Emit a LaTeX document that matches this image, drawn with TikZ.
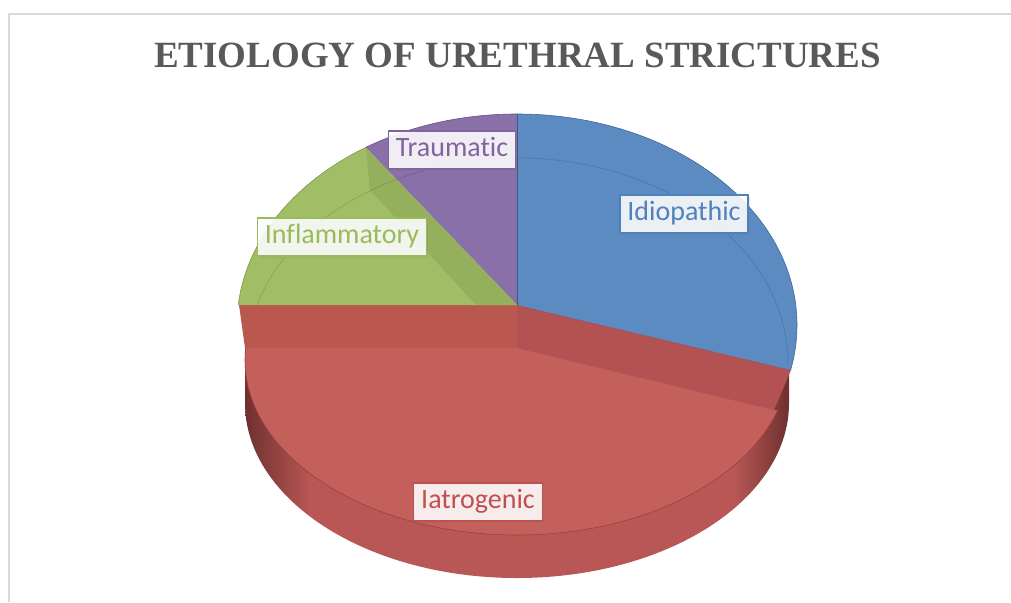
\documentclass[tikz,border=0pt]{standalone}
\usepackage{fontspec}
\setmainfont{Liberation Serif}
\newfontfamily\labelfont[Ligatures=NoCommon]{Carlito}
\usetikzlibrary{shadows}

\definecolor{titleC}{HTML}{595959}
\definecolor{frameC}{HTML}{D9D9D9}
\definecolor{idioC}{HTML}{4F81BD}
\definecolor{iatroC}{HTML}{C0504D}
\definecolor{inflC}{HTML}{9BBB59}
\definecolor{traumC}{HTML}{8064A2}
\definecolor{blueTop}{HTML}{5B8BC1}
\definecolor{purpleTop}{HTML}{8A70A9}
\definecolor{greenTop}{HTML}{A1BE66}
\definecolor{greenSide}{HTML}{94B05D}
\definecolor{redTop}{HTML}{C4605B}
\definecolor{redBandL}{HTML}{BA574F}
\definecolor{redBandR}{HTML}{B35252}
\definecolor{wallMid}{HTML}{B85755}
\definecolor{wallDark}{HTML}{6E302F}

\pgfdeclarehorizontalshading{wall}{100bp}{color(0bp)=(wallDark); color(25bp)=(wallDark);
  color(31bp)=(wallMid); color(70bp)=(wallMid); color(75bp)=(wallDark); color(100bp)=(wallDark)}

\begin{document}
\begin{tikzpicture}[x=1pt,y=-1pt]
  \tikzstyle{lab}=[rectangle,line width=1.5pt,fill=white,fill opacity=0.88,text opacity=1,
    inner xsep=7.5pt,inner ysep=7pt,text height=18pt,text depth=6pt,
    font=\labelfont\fontsize{28}{28}\selectfont,
    drop shadow={opacity=0.2,shadow xshift=1.5pt,shadow yshift=-1.5pt}]
  \tikzstyle{edge}=[line width=0.6pt]
  \tikzstyle{frame}=[frameC,line width=1.5pt]

  \useasboundingbox (0,0) rectangle (1011,602);

  % chart frame
  \draw[frame] (8,14) -- (1011,14);
  \draw[frame] (9,14) -- (9,602);

  \node[font=\bfseries\fontsize{37}{37}\selectfont,text=titleC,anchor=base] (title) at (517.5,67)
    {ETIOLOGY OF URETHRAL STRICTURES};

  % side wall of the iatrogenic slice
  \shade[shading=wall] (245,300) -- (245,403)
    arc[start angle=180,end angle=0,x radius=272,y radius=175] -- (789,300) -- cycle;

  % top of the iatrogenic slice
  \begin{scope}
    \clip (517,348) -- (200,348) -- (200,700) -- (850,700) -- (850,428) -- cycle;
    \filldraw[fill=redTop,draw=iatroC!80!black,edge] (517,360) ellipse[x radius=272,y radius=175];
  \end{scope}
  \fill[redBandL] (239,305) -- (517,305) -- (517,348) -- (245,348) -- cycle;
  \fill[redBandR] (517,305) -- (791,370) -- (774,410) -- (517,348) -- cycle;
  \draw[iatroC!85!black,edge] (517,305) -- (791,370);

  % idiopathic
  \begin{scope}
    \clip (517,305) -- (517,80) -- (900,80) -- (900,396) -- cycle;
    \filldraw[fill=blueTop,draw=idioC!80!black,edge] (517,325) ellipse[x radius=280,y radius=211];
  \end{scope}

  % traumatic
  \begin{scope}
    \clip (517,305) -- (517,50) -- (272,50) -- cycle;
    \filldraw[fill=purpleTop,draw=traumC!80!black,edge] (517,325) ellipse[x radius=280,y radius=211];
  \end{scope}

  % inflammatory
  \begin{scope}
    \clip (517,305) -- (272,50) -- (150,50) -- (150,305) -- cycle;
    \filldraw[fill=greenTop,draw=inflC!80!black,edge] (517,325) ellipse[x radius=280,y radius=211];
  \end{scope}
  \fill[greenSide] (366,148) -- (517,305) -- (476,305) -- (370,190) -- cycle;
  \draw[idioC!70!black,edge] (517,305) -- (517,114);

  % far rim seen through the top
  \draw[black,opacity=0.12,line width=0.8pt] (517,363) ++(196.4:271 and 205)
    arc[start angle=196.4,end angle=360,x radius=271,y radius=205];

  % data labels
  \node[lab,draw=idioC,text=idioC] (idio) at (684,214) {Idiopathic};
  \node[lab,draw=traumC,text=traumC] (traum) at (452,150) {Traumatic};
  \node[lab,draw=inflC,text=inflC] (infl) at (342,237) {Inflammatory};
  \node[lab,draw=iatroC,text=iatroC] (iatro) at (478,502) {Iatrogenic};
\end{tikzpicture}
\end{document}
